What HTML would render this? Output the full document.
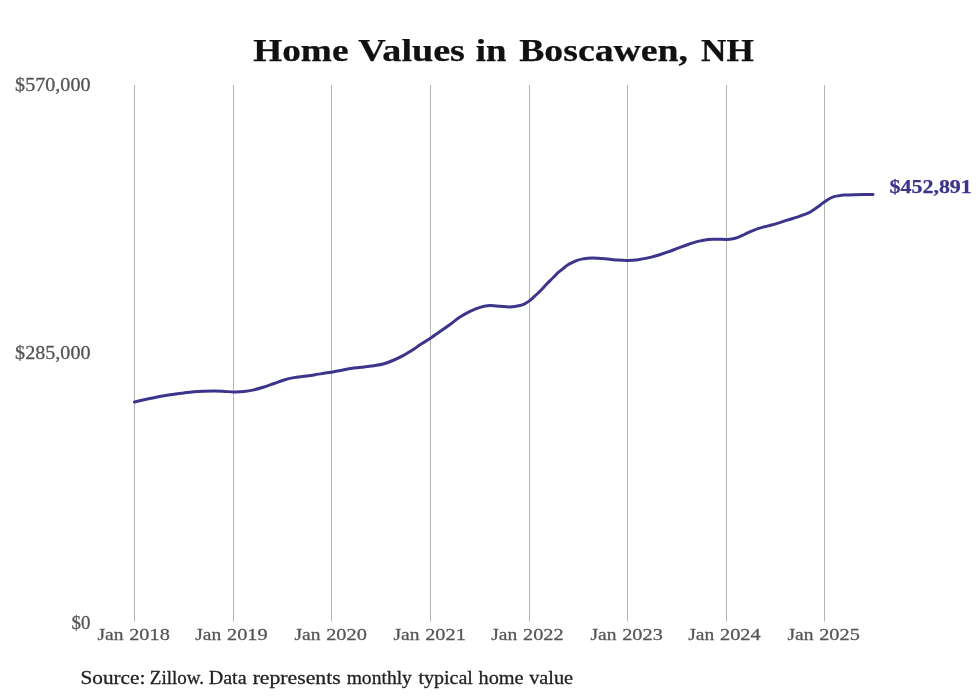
<!DOCTYPE html>
<html lang="en">
<head>
<meta charset="utf-8">
<title>Home Values in Boscawen, NH</title>
<style>
html,body{margin:0;padding:0;background:#ffffff;}
body{width:980px;height:699px;overflow:hidden;font-family:"Liberation Serif",serif;}
svg{display:block;will-change:transform;}
</style>
</head>
<body>
<svg width="980" height="699" viewBox="0 0 980 699">
<rect width="980" height="699" fill="#ffffff"/>
<g fill="#b4b4b4">
<rect x="134.0" y="85" width="1" height="536.5"/>
<rect x="233.0" y="85" width="1" height="536.5"/>
<rect x="331.0" y="85" width="1" height="536.5"/>
<rect x="430.0" y="85" width="1" height="536.5"/>
<rect x="529.0" y="85" width="1" height="536.5"/>
<rect x="627.0" y="85" width="1" height="536.5"/>
<rect x="726.0" y="85" width="1" height="536.5"/>
<rect x="824.0" y="85" width="1" height="536.5"/>
</g>
<path d="M134.50 402.00 C136.08 401.63 140.75 400.52 144.00 399.80 C147.25 399.08 150.67 398.37 154.00 397.70 C157.33 397.03 160.67 396.38 164.00 395.80 C167.33 395.23 170.67 394.73 174.00 394.25 C177.33 393.77 180.67 393.31 184.00 392.90 C187.33 392.49 190.67 392.07 194.00 391.80 C197.33 391.53 200.67 391.42 204.00 391.30 C207.33 391.18 210.67 391.08 214.00 391.10 C217.33 391.12 220.67 391.27 224.00 391.40 C227.33 391.53 230.67 391.87 234.00 391.90 C237.33 391.93 240.67 391.94 244.00 391.60 C247.33 391.26 250.67 390.62 254.00 389.85 C257.33 389.08 260.67 388.06 264.00 387.00 C267.33 385.94 270.67 384.67 274.00 383.50 C277.33 382.33 280.67 380.98 284.00 380.00 C287.33 379.02 290.67 378.27 294.00 377.65 C297.33 377.03 300.67 376.76 304.00 376.30 C307.33 375.84 310.67 375.40 314.00 374.90 C317.33 374.40 320.67 373.83 324.00 373.30 C327.33 372.77 330.67 372.30 334.00 371.70 C337.33 371.10 340.67 370.30 344.00 369.70 C347.33 369.10 350.67 368.57 354.00 368.10 C357.33 367.63 360.67 367.29 364.00 366.90 C367.33 366.51 370.67 366.27 374.00 365.75 C377.33 365.23 380.67 364.76 384.00 363.80 C387.33 362.84 390.67 361.45 394.00 360.00 C397.33 358.55 400.67 356.93 404.00 355.10 C407.33 353.27 411.33 350.72 414.00 349.00 C416.67 347.28 417.33 346.55 420.00 344.80 C422.67 343.05 426.67 340.70 430.00 338.50 C433.33 336.30 436.67 333.93 440.00 331.60 C443.33 329.27 446.67 326.92 450.00 324.50 C453.33 322.08 456.67 319.30 460.00 317.10 C463.33 314.90 466.67 312.92 470.00 311.30 C473.33 309.68 476.67 308.37 480.00 307.40 C483.33 306.43 486.67 305.68 490.00 305.50 C493.33 305.32 496.67 306.07 500.00 306.30 C503.33 306.53 506.67 307.03 510.00 306.90 C513.33 306.77 517.50 306.05 520.00 305.50 C522.50 304.95 523.33 304.45 525.00 303.60 C526.67 302.75 528.17 301.83 530.00 300.40 C531.83 298.97 534.17 296.68 536.00 295.00 C537.83 293.32 539.33 292.00 541.00 290.30 C542.67 288.60 544.33 286.57 546.00 284.80 C547.67 283.03 549.57 281.15 551.00 279.70 C552.43 278.25 553.43 277.27 554.60 276.10 C555.77 274.93 556.60 273.95 558.00 272.70 C559.40 271.45 561.33 269.92 563.00 268.60 C564.67 267.28 566.33 265.87 568.00 264.80 C569.67 263.73 571.33 262.98 573.00 262.20 C574.67 261.42 576.33 260.65 578.00 260.10 C579.67 259.55 581.33 259.22 583.00 258.90 C584.67 258.57 585.50 258.27 588.00 258.15 C590.50 258.03 594.67 258.04 598.00 258.20 C601.33 258.36 604.67 258.78 608.00 259.10 C611.33 259.42 614.67 259.88 618.00 260.10 C621.33 260.32 624.67 260.47 628.00 260.40 C631.33 260.33 634.67 260.12 638.00 259.70 C641.33 259.28 644.67 258.65 648.00 257.90 C651.33 257.15 654.67 256.20 658.00 255.20 C661.33 254.20 664.67 253.07 668.00 251.90 C671.33 250.73 674.67 249.43 678.00 248.20 C681.33 246.97 684.67 245.63 688.00 244.50 C691.33 243.37 694.67 242.24 698.00 241.40 C701.33 240.56 704.67 239.80 708.00 239.45 C711.33 239.10 714.92 239.31 718.00 239.30 C721.08 239.29 724.00 239.50 726.50 239.40 C729.00 239.30 731.08 239.05 733.00 238.70 C734.92 238.35 736.33 237.88 738.00 237.30 C739.67 236.72 741.33 235.97 743.00 235.20 C744.67 234.43 745.50 233.80 748.00 232.70 C750.50 231.60 754.67 229.73 758.00 228.60 C761.33 227.47 764.67 226.82 768.00 225.90 C771.33 224.98 774.67 224.10 778.00 223.10 C781.33 222.10 784.67 220.95 788.00 219.90 C791.33 218.85 794.67 217.93 798.00 216.80 C801.33 215.67 805.50 214.20 808.00 213.10 C810.50 212.00 811.33 211.25 813.00 210.20 C814.67 209.15 816.33 208.02 818.00 206.80 C819.67 205.58 821.33 204.12 823.00 202.90 C824.67 201.68 826.17 200.53 828.00 199.50 C829.83 198.47 832.17 197.33 834.00 196.70 C835.83 196.07 837.33 195.97 839.00 195.70 C840.67 195.43 841.50 195.27 844.00 195.10 C846.50 194.93 850.67 194.76 854.00 194.65 C857.33 194.54 860.83 194.49 864.00 194.45 C867.17 194.41 871.50 194.41 873.00 194.40" fill="none" stroke="#3d348b" stroke-width="3.00" stroke-linecap="round" stroke-linejoin="round"/>
<text x="253.20" y="60.50" font-family="'Liberation Serif', serif" font-weight="bold" font-size="30.70" fill="#111111" stroke="#111111" stroke-width="0.25" textLength="95.26" lengthAdjust="spacingAndGlyphs">Home</text>
<text x="358.35" y="60.50" font-family="'Liberation Serif', serif" font-weight="bold" font-size="30.70" fill="#111111" stroke="#111111" stroke-width="0.25" textLength="106.61" lengthAdjust="spacingAndGlyphs">Values</text>
<text x="475.78" y="60.50" font-family="'Liberation Serif', serif" font-weight="bold" font-size="30.70" fill="#111111" stroke="#111111" stroke-width="0.25" textLength="30.68" lengthAdjust="spacingAndGlyphs">in</text>
<text x="519.20" y="60.50" font-family="'Liberation Serif', serif" font-weight="bold" font-size="30.70" fill="#111111" stroke="#111111" stroke-width="0.25" textLength="168.77" lengthAdjust="spacingAndGlyphs">Boscawen,</text>
<text x="701.09" y="60.50" font-family="'Liberation Serif', serif" font-weight="bold" font-size="30.70" fill="#111111" stroke="#111111" stroke-width="0.25" textLength="52.72" lengthAdjust="spacingAndGlyphs">NH</text>
<text x="15.14" y="90.70" font-family="'Liberation Serif', serif" font-size="18.00" fill="#555555" stroke="#555555" stroke-width="0.28" textLength="75.37" lengthAdjust="spacingAndGlyphs">$570,000</text>
<text x="15.14" y="358.60" font-family="'Liberation Serif', serif" font-size="18.00" fill="#555555" stroke="#555555" stroke-width="0.28" textLength="75.37" lengthAdjust="spacingAndGlyphs">$285,000</text>
<text x="71.47" y="628.60" font-family="'Liberation Serif', serif" font-size="18.00" fill="#555555" stroke="#555555" stroke-width="0.28" textLength="18.86" lengthAdjust="spacingAndGlyphs">$0</text>
<text x="97.45" y="640.30" font-family="'Liberation Serif', serif" font-size="17.60" fill="#555555" stroke="#555555" stroke-width="0.28" textLength="25.96" lengthAdjust="spacingAndGlyphs">Jan</text>
<text x="129.23" y="640.30" font-family="'Liberation Serif', serif" font-size="17.60" fill="#555555" stroke="#555555" stroke-width="0.28" textLength="40.59" lengthAdjust="spacingAndGlyphs">2018</text>
<text x="195.25" y="640.30" font-family="'Liberation Serif', serif" font-size="17.60" fill="#555555" stroke="#555555" stroke-width="0.28" textLength="25.96" lengthAdjust="spacingAndGlyphs">Jan</text>
<text x="227.03" y="640.30" font-family="'Liberation Serif', serif" font-size="17.60" fill="#555555" stroke="#555555" stroke-width="0.28" textLength="40.59" lengthAdjust="spacingAndGlyphs">2019</text>
<text x="294.45" y="640.30" font-family="'Liberation Serif', serif" font-size="17.60" fill="#555555" stroke="#555555" stroke-width="0.28" textLength="25.96" lengthAdjust="spacingAndGlyphs">Jan</text>
<text x="326.23" y="640.30" font-family="'Liberation Serif', serif" font-size="17.60" fill="#555555" stroke="#555555" stroke-width="0.28" textLength="40.59" lengthAdjust="spacingAndGlyphs">2020</text>
<text x="393.45" y="640.30" font-family="'Liberation Serif', serif" font-size="17.60" fill="#555555" stroke="#555555" stroke-width="0.28" textLength="25.96" lengthAdjust="spacingAndGlyphs">Jan</text>
<text x="425.23" y="640.30" font-family="'Liberation Serif', serif" font-size="17.60" fill="#555555" stroke="#555555" stroke-width="0.28" textLength="40.59" lengthAdjust="spacingAndGlyphs">2021</text>
<text x="491.25" y="640.30" font-family="'Liberation Serif', serif" font-size="17.60" fill="#555555" stroke="#555555" stroke-width="0.28" textLength="25.96" lengthAdjust="spacingAndGlyphs">Jan</text>
<text x="523.03" y="640.30" font-family="'Liberation Serif', serif" font-size="17.60" fill="#555555" stroke="#555555" stroke-width="0.28" textLength="40.59" lengthAdjust="spacingAndGlyphs">2022</text>
<text x="590.45" y="640.30" font-family="'Liberation Serif', serif" font-size="17.60" fill="#555555" stroke="#555555" stroke-width="0.28" textLength="25.96" lengthAdjust="spacingAndGlyphs">Jan</text>
<text x="622.23" y="640.30" font-family="'Liberation Serif', serif" font-size="17.60" fill="#555555" stroke="#555555" stroke-width="0.28" textLength="40.59" lengthAdjust="spacingAndGlyphs">2023</text>
<text x="688.25" y="640.30" font-family="'Liberation Serif', serif" font-size="17.60" fill="#555555" stroke="#555555" stroke-width="0.28" textLength="25.96" lengthAdjust="spacingAndGlyphs">Jan</text>
<text x="720.03" y="640.30" font-family="'Liberation Serif', serif" font-size="17.60" fill="#555555" stroke="#555555" stroke-width="0.28" textLength="40.59" lengthAdjust="spacingAndGlyphs">2024</text>
<text x="787.45" y="640.30" font-family="'Liberation Serif', serif" font-size="17.60" fill="#555555" stroke="#555555" stroke-width="0.28" textLength="25.96" lengthAdjust="spacingAndGlyphs">Jan</text>
<text x="819.23" y="640.30" font-family="'Liberation Serif', serif" font-size="17.60" fill="#555555" stroke="#555555" stroke-width="0.28" textLength="40.59" lengthAdjust="spacingAndGlyphs">2025</text>
<text x="889.49" y="192.70" font-family="'Liberation Serif', serif" font-weight="bold" font-size="18.20" fill="#3d348b" stroke="#3d348b" stroke-width="0.25" textLength="82.33" lengthAdjust="spacingAndGlyphs">$452,891</text>
<text x="80.49" y="683.70" font-family="'Liberation Serif', serif" font-size="18.80" fill="#222222" stroke="#222222" stroke-width="0.28" textLength="64.88" lengthAdjust="spacingAndGlyphs">Source:</text>
<text x="149.83" y="683.70" font-family="'Liberation Serif', serif" font-size="18.80" fill="#222222" stroke="#222222" stroke-width="0.28" textLength="54.21" lengthAdjust="spacingAndGlyphs">Zillow.</text>
<text x="208.70" y="683.70" font-family="'Liberation Serif', serif" font-size="18.80" fill="#222222" stroke="#222222" stroke-width="0.28" textLength="37.91" lengthAdjust="spacingAndGlyphs">Data</text>
<text x="252.65" y="683.70" font-family="'Liberation Serif', serif" font-size="18.80" fill="#222222" stroke="#222222" stroke-width="0.28" textLength="88.06" lengthAdjust="spacingAndGlyphs">represents</text>
<text x="346.65" y="683.70" font-family="'Liberation Serif', serif" font-size="18.80" fill="#222222" stroke="#222222" stroke-width="0.28" textLength="65.25" lengthAdjust="spacingAndGlyphs">monthly</text>
<text x="418.40" y="683.70" font-family="'Liberation Serif', serif" font-size="18.80" fill="#222222" stroke="#222222" stroke-width="0.28" textLength="54.55" lengthAdjust="spacingAndGlyphs">typical</text>
<text x="478.50" y="683.70" font-family="'Liberation Serif', serif" font-size="18.80" fill="#222222" stroke="#222222" stroke-width="0.28" textLength="45.11" lengthAdjust="spacingAndGlyphs">home</text>
<text x="529.15" y="683.70" font-family="'Liberation Serif', serif" font-size="18.80" fill="#222222" stroke="#222222" stroke-width="0.28" textLength="43.85" lengthAdjust="spacingAndGlyphs">value</text>
</svg>
</body>
</html>
